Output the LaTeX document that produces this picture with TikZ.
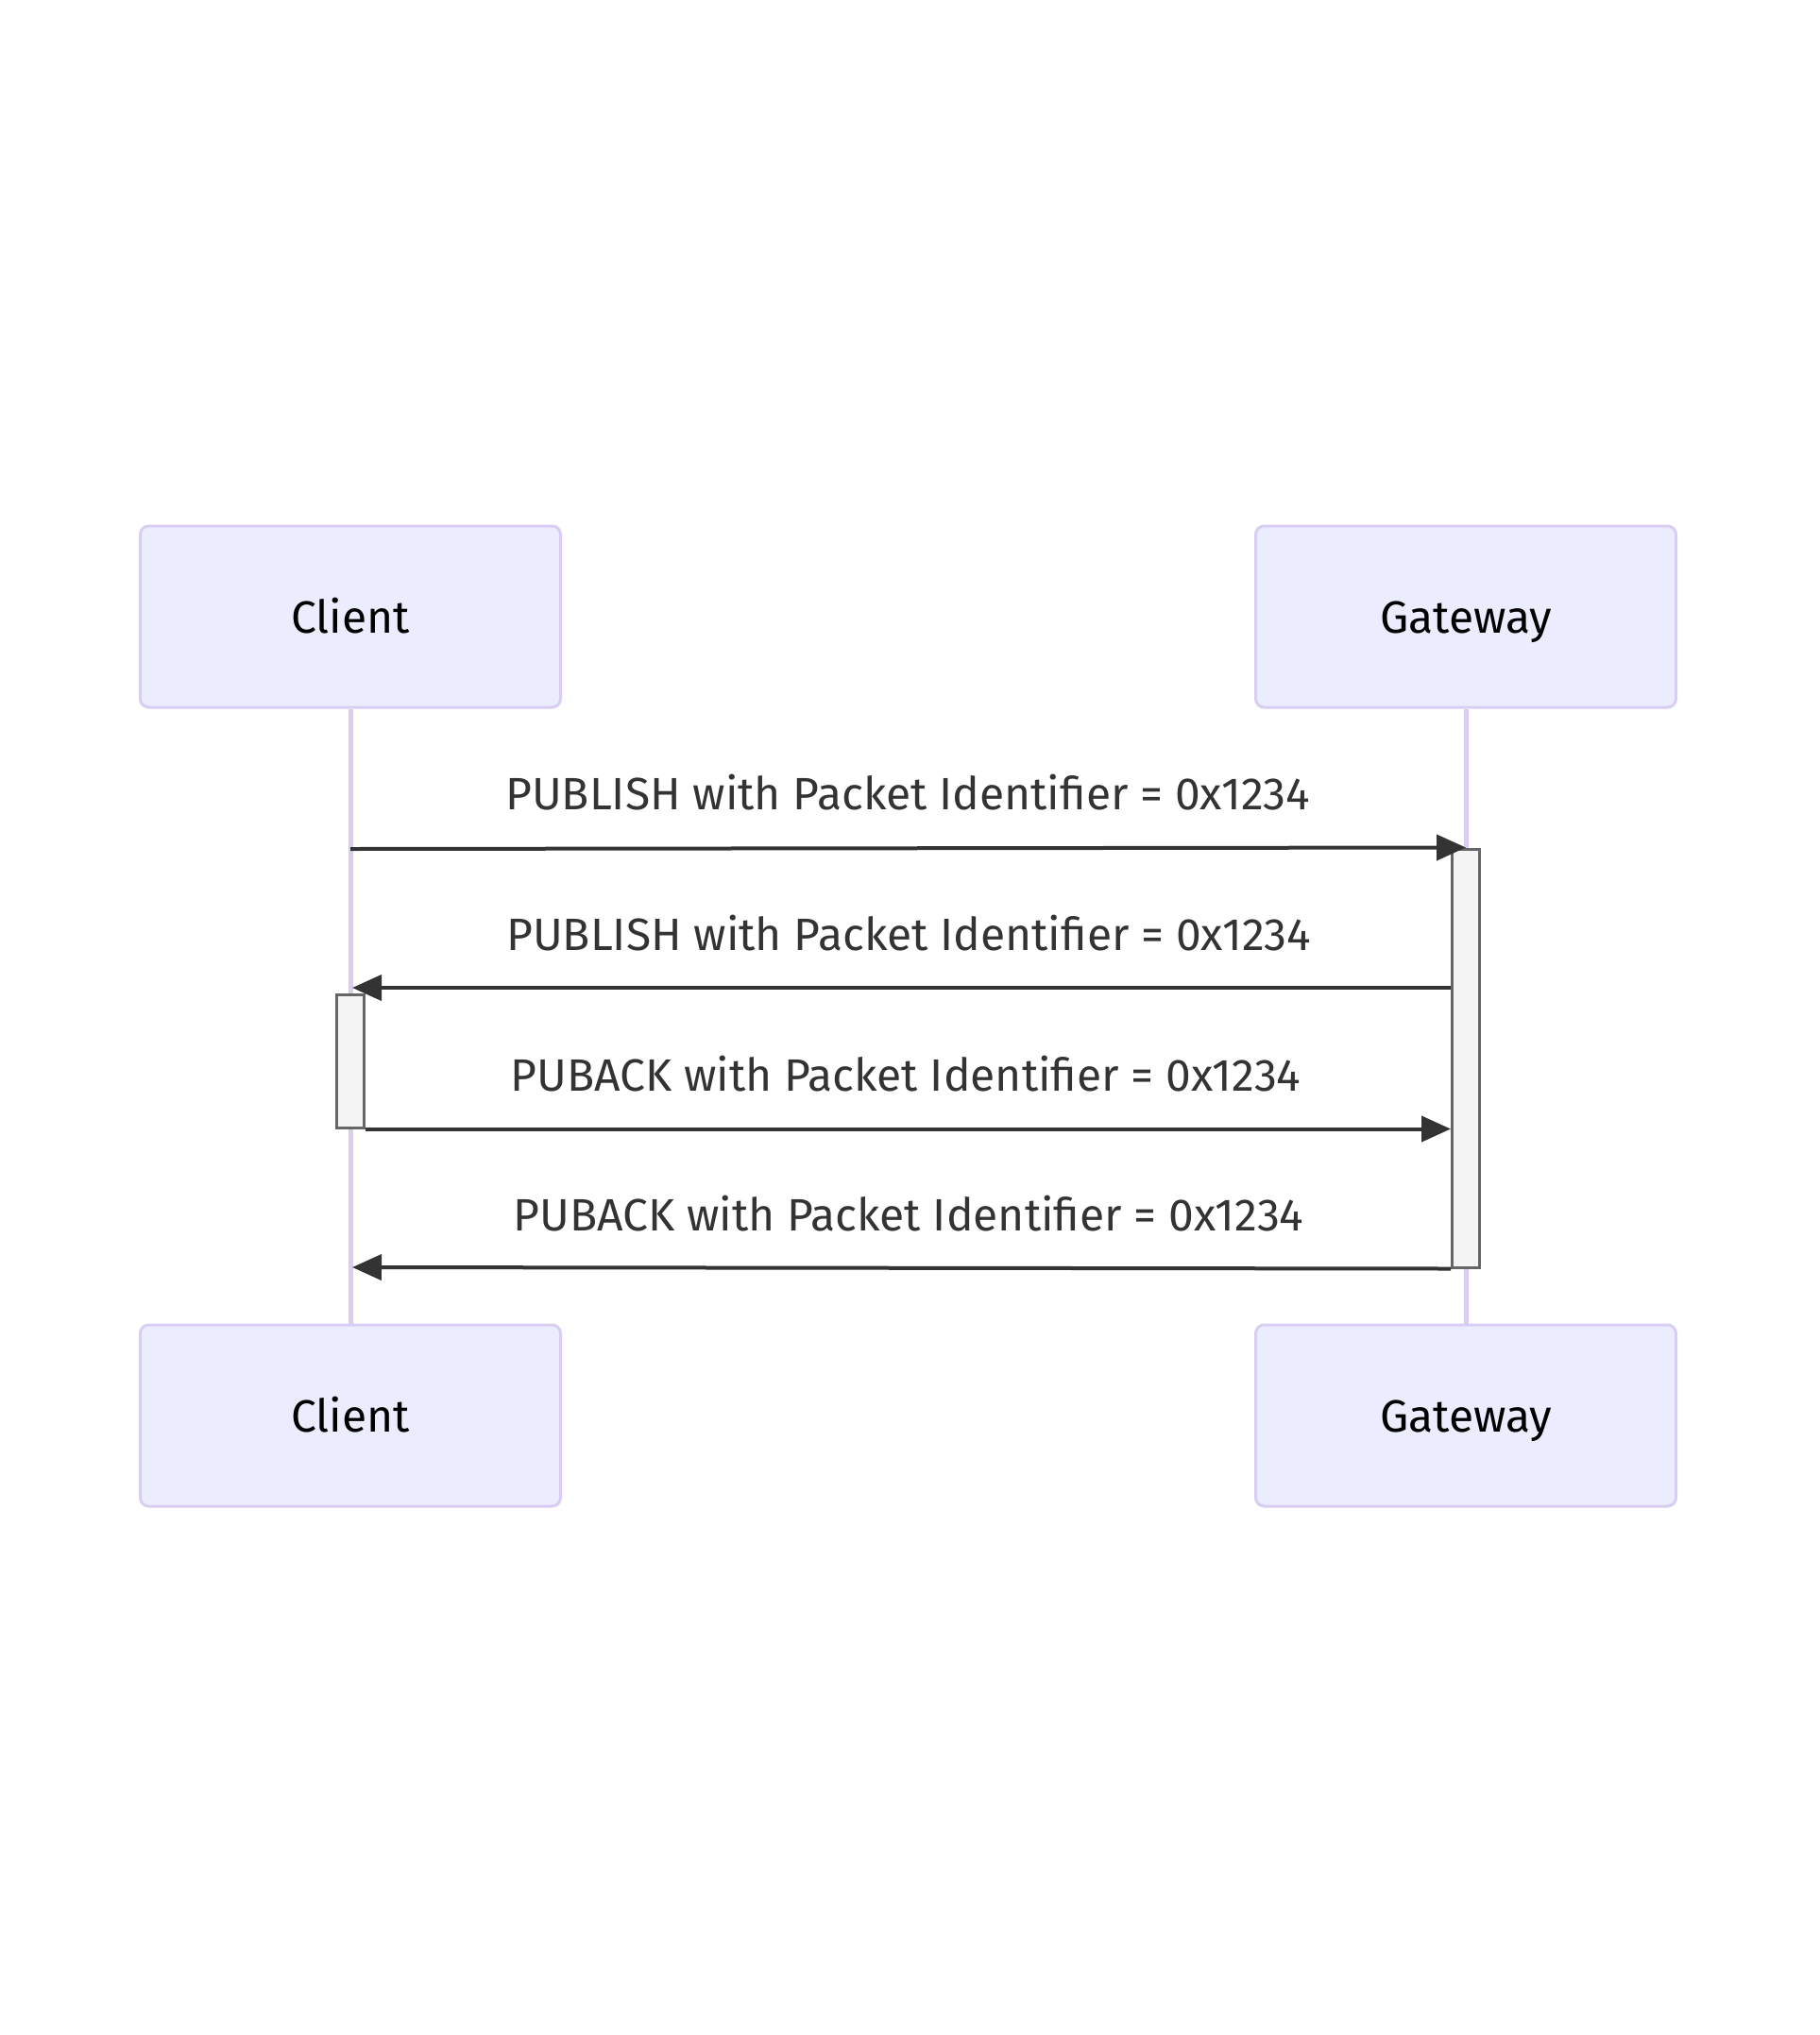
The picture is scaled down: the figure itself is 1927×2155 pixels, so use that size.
\documentclass[tikz,border=0pt]{standalone}
\usepackage{fontspec}
\setmainfont{Fira Sans}
\usetikzlibrary{arrows.meta,positioning}
\definecolor{actorfill}{HTML}{ECECFF}
\definecolor{actorline}{HTML}{D9CEF2}
\definecolor{msgline}{HTML}{333333}
\definecolor{barfill}{HTML}{F4F4F4}
\definecolor{barline}{HTML}{666666}
\tikzset{
  actor/.style={draw=actorline,fill=actorfill,line width=3pt,rounded corners=9pt,
    minimum width=445pt,minimum height=192pt,text height=34pt,text depth=0pt,
    font=\fontsize{48}{56}\selectfont},
  lifeline/.style={draw=actorline,line width=5pt},
  actbar/.style={draw=barline,fill=barfill,line width=3pt,minimum width=29pt,inner sep=0pt},
  msg/.style={draw=msgline,line width=4pt,-{Triangle[length=31pt,width=27pt]}},
  msglabel/.style={text=msgline,font=\fontsize{48}{56}\selectfont}
}
\begin{document}
\begin{tikzpicture}[x=1pt,y=-1pt]
\useasboundingbox (0,0) rectangle (1927,2155);
%actors, top and bottom
\node[actor] (ctop) at (371,653) {Client};
\node[actor] (gtop) at (1552,653) {Gateway};
\node[actor] (cbot) at (371,1499) {Client};
\node[actor] (gbot) at (1552,1499) {Gateway};
%lifelines
\draw[lifeline] (ctop.south) -- (cbot.north);
\draw[lifeline] (gtop.south) -- (gbot.north);
%activations
\node[actbar,minimum height=443pt] (gbar) at (1552,1120.5) {};
\node[actbar,minimum height=141pt] (cbar) at (371,1123.5) {};
%points on client lifeline
\coordinate (c1) at (371,899);
\coordinate (c2) at (373,1046);
\coordinate (c4) at (373,1342);
%messages
\draw[msg] (c1) -- (gbar.north);
\node[msglabel] (l1) at (961,839) {PUBLISH with Packet Identifier = 0x1234};
\draw[msg] (gbar.west |- c2) -- (c2);
\node[msglabel] (l2) at (962,988) {PUBLISH with Packet Identifier = 0x1234};
\draw[msg] (cbar.south east) -- (gbar.west |- cbar.south);
\node[msglabel] (l3) at (959,1137) {PUBACK with Packet Identifier = 0x1234};
\draw[msg] (gbar.south west) -- (c4);
\node[msglabel] (l4) at (962,1285) {PUBACK with Packet Identifier = 0x1234};
\end{tikzpicture}
\end{document}
